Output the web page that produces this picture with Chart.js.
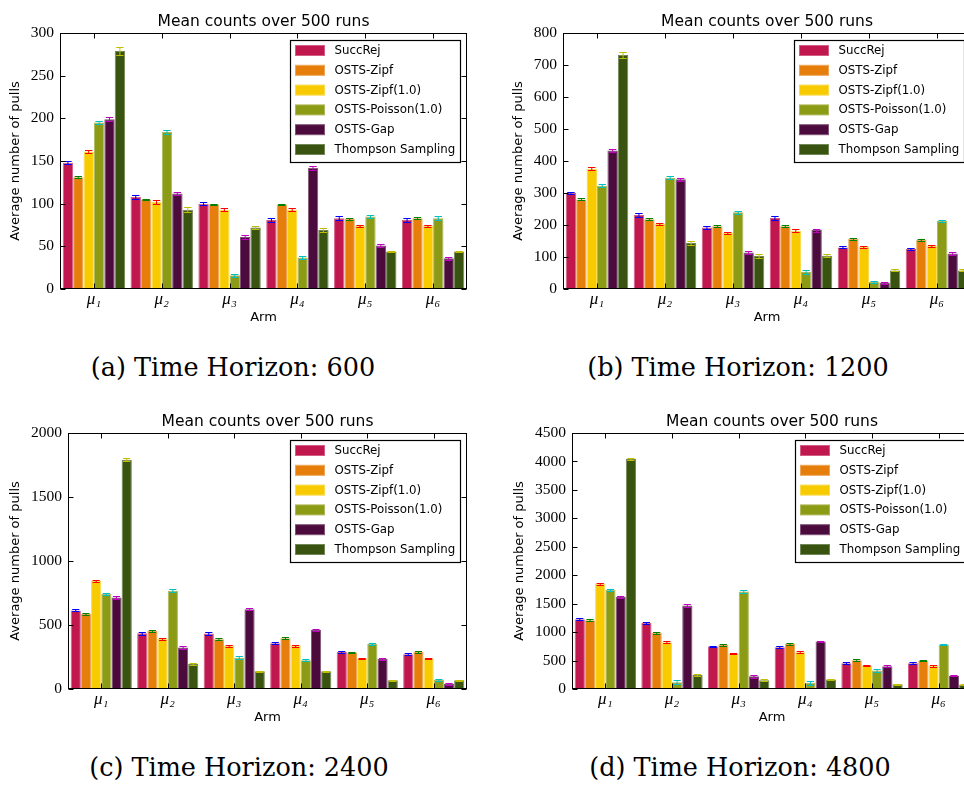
<!DOCTYPE html>
<html>
<head>
<meta charset="utf-8">
<script src="https://cdn.jsdelivr.net/npm/chart.js@4.4.1/dist/chart.umd.min.js"></script>
<style>
  body { margin: 0; background: #fff; }
  #page { position: relative; width: 964px; height: 792px; overflow: hidden; background: #fff; }
  canvas { position: absolute; }
  .caption {
    position: absolute; font-family: "DejaVu Serif", serif; font-size: 25.5px;
    line-height: 30px; text-align: center; color: #000; white-space: nowrap;
  }
</style>
</head>
<body>
<div id="page">
  <canvas id="c600" width="480" height="330" style="left:0;top:0"></canvas>
  <canvas id="c1200" width="500" height="330" style="left:480px;top:0"></canvas>
  <canvas id="c2400" width="480" height="330" style="left:0;top:400px"></canvas>
  <canvas id="c4800" width="500" height="330" style="left:480px;top:400px"></canvas>
  <div class="caption" style="left:0;width:466px;top:352px">(a) Time Horizon: 600</div>
  <div class="caption" style="left:538px;width:400px;top:352px">(b) Time Horizon: 1200</div>
  <div class="caption" style="left:0;width:478px;top:752px">(c) Time Horizon: 2400</div>
  <div class="caption" style="left:540px;width:400px;top:752px">(d) Time Horizon: 4800</div>
</div>
<script>
const arms = ["μ₁", "μ₂", "μ₃", "μ₄", "μ₅", "μ₆"];
const algorithms = ["SuccRej", "OSTS-Zipf", "OSTS-Zipf(1.0)", "OSTS-Poisson(1.0)", "OSTS-Gap", "Thompson Sampling"];
const barColors = ["#c0174f", "#e67e0c", "#f7cb00", "#8b9b15", "#4b0b3c", "#395410"];
const errColors = ["#0000ff", "#008000", "#ff0000", "#00bfbf", "#bf00bf", "#bfbf00"];

// mean number of pulls, one row per algorithm, one column per arm
const pulls600 = [
  [148, 108, 100, 81, 83, 81],
  [131, 105, 99, 99, 82, 83],
  [161, 102, 93, 93, 74, 74],
  [195, 184, 16, 37, 85, 83],
  [199, 112, 61, 142, 51, 36],
  [279, 93, 72, 69, 44, 44]
];
const err600 = [
  [2, 2, 2, 2, 2, 2],
  [1, 1, 1, 1, 1, 1],
  [2, 2, 2, 2, 1, 1],
  [2, 2, 2, 2, 2, 2],
  [2, 2, 2, 2, 2, 2],
  [5, 3, 2, 2, 1, 1]
];

const pulls1200 = [
  [301, 231, 192, 222, 130, 125],
  [280, 218, 196, 196, 157, 153],
  [376, 203, 175, 182, 132, 134],
  [323, 348, 240, 53, 22, 213],
  [433, 343, 114, 184, 19, 111],
  [731, 144, 103, 104, 58, 58]
];
const err1200 = [
  [3, 5, 5, 5, 3, 3],
  [3, 3, 3, 3, 3, 3],
  [4, 4, 4, 4, 3, 3],
  [4, 5, 5, 5, 4, 4],
  [4, 5, 5, 5, 3, 4],
  [9, 5, 5, 5, 3, 3]
];

const pulls2400 = [
  [614, 436, 433, 358, 290, 272],
  [585, 454, 389, 397, 285, 290],
  [843, 394, 337, 339, 240, 240],
  [744, 768, 245, 225, 352, 70],
  [715, 324, 624, 460, 235, 39],
  [1791, 196, 138, 138, 68, 68]
];
const err2400 = [
  [8, 12, 12, 10, 10, 10],
  [6, 6, 6, 6, 6, 6],
  [8, 8, 8, 8, 6, 6],
  [8, 12, 12, 10, 10, 10],
  [8, 10, 8, 8, 6, 6],
  [12, 8, 6, 6, 6, 6]
];

const pulls4800 = [
  [1228, 1163, 746, 734, 452, 452],
  [1210, 987, 776, 793, 505, 499],
  [1851, 823, 623, 646, 411, 405],
  [1745, 118, 1716, 112, 323, 781],
  [1616, 1469, 223, 834, 400, 235],
  [4042, 247, 153, 165, 82, 76]
];
const err4800 = [
  [15, 15, 15, 15, 15, 15],
  [15, 15, 15, 15, 15, 15],
  [15, 15, 15, 15, 15, 15],
  [15, 35, 20, 35, 20, 15],
  [15, 20, 25, 15, 15, 15],
  [20, 15, 15, 15, 10, 10]
];

function lighten(hex, f) {
  const n = parseInt(hex.slice(1), 16);
  const r = (n >> 16) & 255, g = (n >> 8) & 255, b = n & 255;
  const m = c => Math.round(c + (255 - c) * f);
  return "rgb(" + m(r) + "," + m(g) + "," + m(b) + ")";
}

const tickFont = { family: "Liberation Serif", size: 15.5 };

const decorPlugin = {
  id: "decor",
  afterDatasetsDraw(chart) {
    const ctx = chart.ctx;
    const yScale = chart.scales.y;
    const errs = chart.options.plugins.decor.errors;
    ctx.save();
    ctx.lineWidth = 1;
    chart.data.datasets.forEach((ds, i) => {
      const meta = chart.getDatasetMeta(i);
      meta.data.forEach((bar, j) => {
        const v = ds.data[j], e = errs[i][j];
        const hi = Math.round(yScale.getPixelForValue(v + e)) + 0.5;
        const lo = Math.round(yScale.getPixelForValue(v - e)) + 0.5;
        const half = bar.width / 2 - 1.5;
        ctx.strokeStyle = errColors[i];
        ctx.beginPath();
        ctx.moveTo(bar.x, hi);
        ctx.lineTo(bar.x, lo);
        ctx.moveTo(bar.x - half, hi);
        ctx.lineTo(bar.x + half, hi);
        ctx.moveTo(bar.x - half, lo);
        ctx.lineTo(bar.x + half, lo);
        ctx.stroke();
      });
    });
    ctx.restore();
  },
  afterDraw(chart) {
    const ctx = chart.ctx;
    const ca = chart.chartArea;
    const xs = chart.scales.x, ys = chart.scales.y;
    ctx.save();
    ctx.strokeStyle = "#000";
    ctx.lineWidth = 1;
    const L = Math.round(ca.left) + 0.5, R = Math.round(ca.right) - 0.5;
    const T = Math.round(ca.top) + 0.5, B = Math.round(ca.bottom) - 0.5;
    ctx.strokeRect(L, T, R - L, B - T);
    ctx.beginPath();
    ys.ticks.forEach((t, i) => {
      const y = Math.round(ys.getPixelForTick(i)) + 0.5;
      ctx.moveTo(L, y); ctx.lineTo(L + 5, y);
      ctx.moveTo(R, y); ctx.lineTo(R - 5, y);
    });
    xs.ticks.forEach((t, i) => {
      const x = Math.round(xs.getPixelForTick(i)) + 0.5;
      ctx.moveTo(x, B); ctx.lineTo(x, B - 5);
      ctx.moveTo(x, T); ctx.lineTo(x, T + 5);
    });
    ctx.stroke();

    ctx.fillStyle = "#000";
    ctx.textAlign = "center";
    ctx.textBaseline = "alphabetic";
    ctx.font = '15.5px "DejaVu Sans"';
    ctx.fillText("Mean counts over 500 runs", (ca.left + ca.right) / 2, ca.top - 7);

    ctx.font = '13px "DejaVu Sans"';
    ctx.textBaseline = "middle";
    ctx.fillText("Arm", (ca.left + ca.right) / 2, ca.bottom + 29);

    ctx.font = tickFont.size + 'px "' + tickFont.family + '"';
    let w = 0;
    ys.ticks.forEach(t => { w = Math.max(w, ctx.measureText(String(t.value)).width); });
    ctx.save();
    ctx.translate(ca.left - 6 - w - 15, (ca.top + ca.bottom) / 2);
    ctx.rotate(-Math.PI / 2);
    ctx.font = '13px "DejaVu Sans"';
    ctx.fillText("Average number of pulls", 0, 0);
    ctx.restore();

    // legend
    const bx = Math.round(ca.right - 177) + 0.5, by = Math.round(ca.top + 7) + 0.5;
    ctx.fillStyle = "#fff";
    ctx.fillRect(bx, by, 170, 122);
    ctx.lineWidth = 1.2;
    ctx.strokeStyle = "#000";
    ctx.strokeRect(bx, by, 170, 122);
    ctx.font = '11.8px "DejaVu Sans"';
    ctx.textAlign = "left";
    chart.data.datasets.forEach((ds, i) => {
      const cy = by + 10 + i * 19.8;
      ctx.fillStyle = ds.backgroundColor;
      ctx.fillRect(bx + 5, cy - 5, 29, 10);
      ctx.strokeStyle = ds.borderColor;
      ctx.lineWidth = 1;
      ctx.strokeRect(bx + 5, cy - 5, 29, 10);
      ctx.fillStyle = "#000";
      ctx.fillText(ds.label, bx + 44, cy + 0.5);
    });
    ctx.restore();
  }
};

function makePanel(id, pulls, errs, yMax, yStep, yWidth, rightPad) {
  const canvas = document.getElementById(id);
  const H = canvas.height;
  new Chart(canvas, {
    type: "bar",
    data: {
      labels: arms,
      datasets: algorithms.map((name, i) => ({
        label: name,
        data: pulls[i],
        backgroundColor: barColors[i],
        borderColor: lighten(barColors[i], 0.3),
        borderWidth: 1
      }))
    },
    options: {
      responsive: false,
      animation: false,
      events: [],
      layout: { padding: { left: 0, right: rightPad, top: 33, bottom: 0 } },
      datasets: { bar: { categoryPercentage: 0.92, barPercentage: 1 } },
      plugins: {
        legend: { display: false },
        title: { display: false },
        tooltip: { enabled: false },
        decor: { errors: errs }
      },
      scales: {
        x: {
          grid: { display: false, drawTicks: false },
          border: { display: false },
          ticks: {
            color: "#000", padding: 0, maxRotation: 0,
            font: { family: "Liberation Serif", style: "italic", size: 17 }
          },
          afterFit: s => { s.height = H - 289; }
        },
        y: {
          min: 0, max: yMax,
          grid: { display: false, drawTicks: false },
          border: { display: false },
          ticks: {
            stepSize: yStep, color: "#000", padding: 6, font: tickFont,
            callback: v => String(v)
          },
          afterFit: s => { s.width = yWidth; }
        }
      }
    },
    plugins: [decorPlugin]
  });
}

makePanel("c600", pulls600, err600, 300, 50, 60, 13);
makePanel("c1200", pulls1200, err1200, 800, 100, 83, 9);
makePanel("c2400", pulls2400, err2400, 2000, 500, 68, 13);
makePanel("c4800", pulls4800, err4800, 4500, 500, 92, 8);
</script>
</body>
</html>
